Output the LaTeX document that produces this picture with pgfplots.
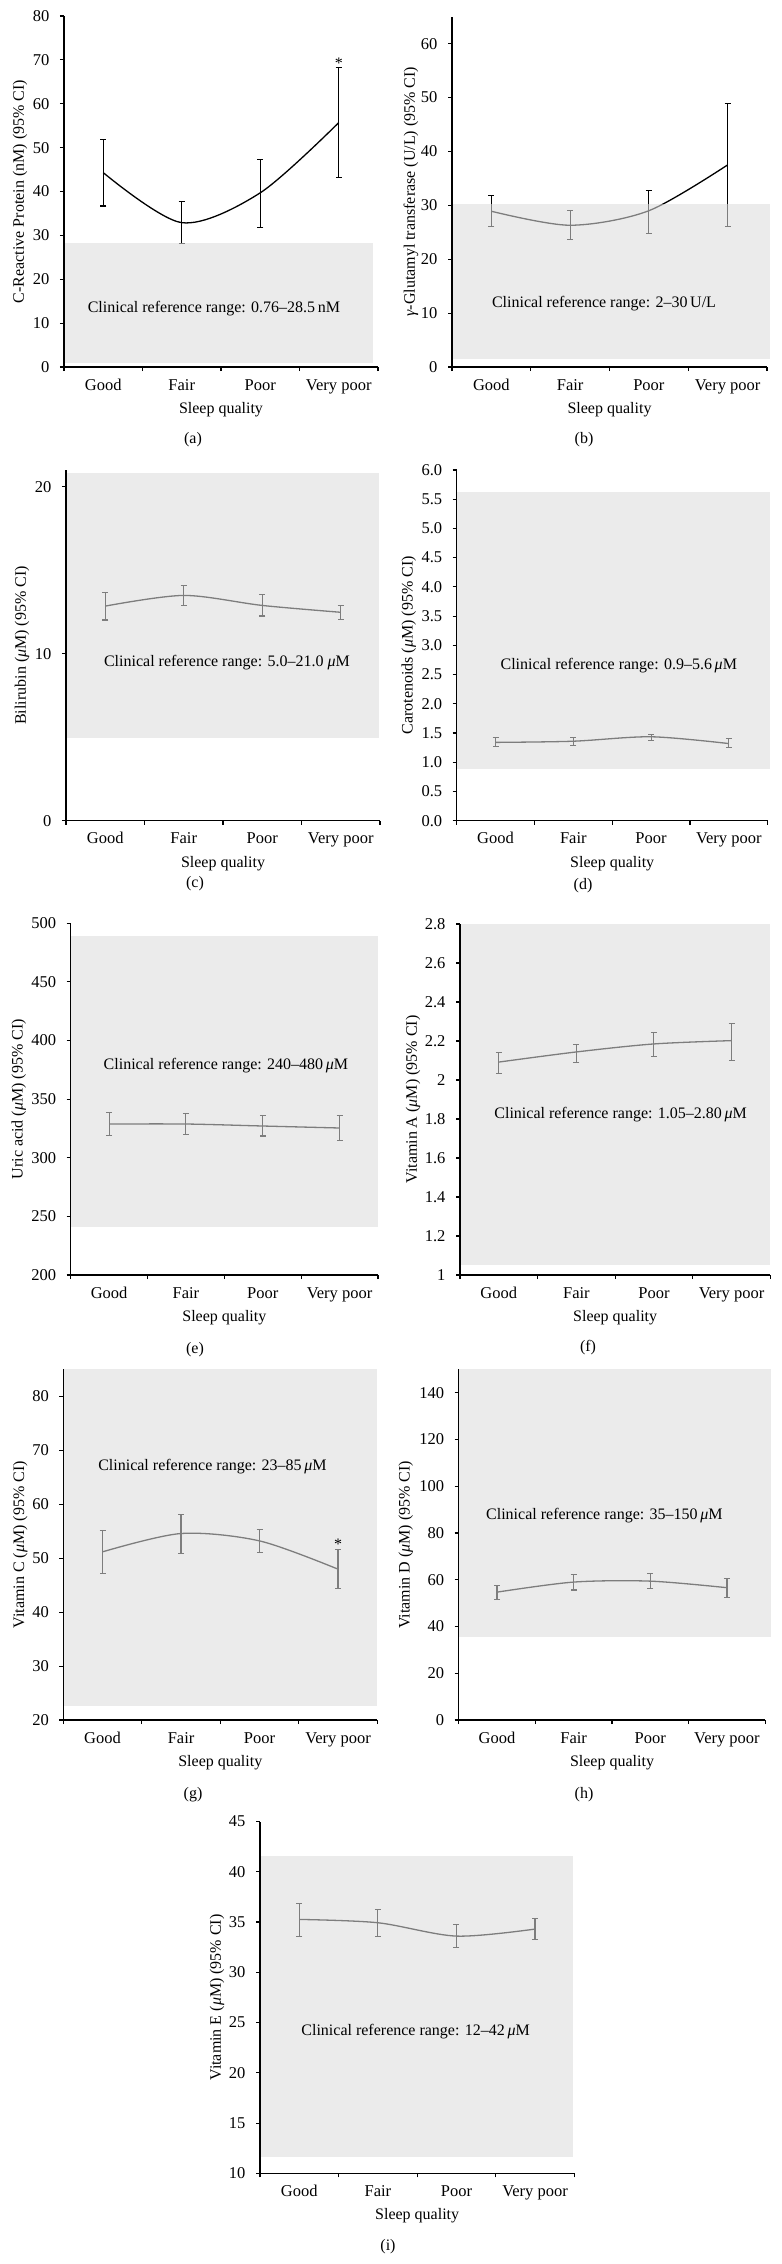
\documentclass[border=0pt]{standalone}
\usepackage{fontspec}
\setmainfont{Liberation Serif}
\usepackage{pgfplots}
\pgfplotsset{compat=1.18}
\definecolor{refgray}{gray}{0.862}
\newcommand{\mum}{\textit{μ}M}
\pgfplotsset{
  panel/.style={
    scale only axis,
    anchor=south west,
    xmin=0.5, xmax=4.5,
    xtick={1,2,3,4},
    xticklabels={Good,Fair,Poor,Very poor},
    major x tick style={draw=none},
    minor xtick={0.5,1.5,2.5,3.5,4.5},
    tick align=outside,
    major tick length=4bp, minor tick length=4bp,
    axis x line*=bottom, axis y line*=left,
    axis line style={line width=1.1bp, black},
    tick style={line width=1.1bp, black},
    xlabel={Sleep quality},
    clip=false,
    axis on top,
    scaled y ticks=false,
    /pgf/number format/assume math mode=true,
    xticklabel style={anchor=base, yshift=-19bp, font=\fontsize{16.5bp}{19bp}\selectfont},
    yticklabel style={xshift=-5bp, font=\fontsize{16.5bp}{19bp}\selectfont},
    xlabel style={at={(axis description cs:0.5,0)}, anchor=base, yshift=-46.5bp},
  },
  ylab/.style={ylabel style={at={([xshift=-#1]axis description cs:0,0.5)}, anchor=center}},
  dataline/.style={black, line width=1.3bp, smooth,
    error bars/.cd, y dir=both, y explicit,
    error bar style={line width=1.1bp, black},
    error mark options={rotate=90, mark size=3bp, line width=1.1bp, black}},
  refbox/.style={draw=none, fill=refgray, fill opacity=0.569},
}
\begin{document}
\fontsize{16bp}{19bp}\selectfont
\begin{tikzpicture}[font=\fontsize{16bp}{19bp}\selectfont]
\path[use as bounding box] (0,0) rectangle (782bp,-2264bp);

% (a)
\begin{axis}[panel, at={(64bp,-367bp)}, width=314bp, height=351bp,
  ymin=0, ymax=80, ytick={0,10,20,30,40,50,60,70,80}, ylab=44bp,
  ylabel={C-Reactive Protein (nM) (95\% CI)}]
\addplot[dataline] coordinates {
 (1,44.3) += (0,7.5) -= (0,7.6)
 (2,32.9) += (0,4.9) -= (0,4.7)
 (3,39.7) += (0,7.5) -= (0,8.0)
 (4,55.7) += (0,12.6) -= (0,12.6)};
\addplot[refbox] coordinates {(0.5,1.0) (4.44,1.0) (4.44,28.3) (0.5,28.3)} -- cycle;
\node at (axis cs:2.41,13.2) {Clinical reference range: 0.76–28.5\,nM};
\node at (axis cs:4,69.2) {*};
\end{axis}

% (b)
\begin{axis}[panel, at={(452bp,-367bp)}, width=315bp, height=350.3bp,
  ymin=0, ymax=65, ytick={0,10,20,30,40,50,60}, ylab=41bp,
  ylabel={\textit{γ}-Glutamyl transferase (U/L) (95\% CI)}]
\addplot[dataline] coordinates {
 (1,28.9) += (0,2.9) -= (0,2.9)
 (2,26.3) += (0,2.8) -= (0,2.7)
 (3,29.0) += (0,3.8) -= (0,4.2)
 (4,37.5) += (0,11.4) -= (0,11.5)};
\addplot[refbox] coordinates {(0.5,1.5) (4.54,1.5) (4.54,30.2) (0.5,30.2)} -- cycle;
\node at (axis cs:2.43,11.8) {Clinical reference range: 2–30\,U/L};
\end{axis}

% (c)
\begin{axis}[panel, at={(66bp,-820.7bp)}, width=314bp, height=350.7bp,
  ymin=0, ymax=21, ytick={0,10,20}, ylab=44bp,
  ylabel={Bilirubin (\mum) (95\% CI)}]
\addplot[dataline] coordinates {
 (1,12.85) += (0,0.84) -= (0,0.83)
 (2,13.49) += (0,0.60) -= (0,0.60)
 (3,12.89) += (0,0.66) -= (0,0.63)
 (4,12.48) += (0,0.41) -= (0,0.44)};
\addplot[refbox] coordinates {(0.5,4.93) (4.49,4.93) (4.49,20.8) (0.5,20.8)} -- cycle;
\node at (axis cs:2.55,9.46) {Clinical reference range: 5.0–21.0 \mum};
\end{axis}

% (d)
\begin{axis}[panel, at={(456.7bp,-820.7bp)}, width=311bp, height=350.7bp,
  ymin=0, ymax=6, ytick={0,0.5,1,1.5,2,2.5,3,3.5,4,4.5,5,5.5,6}, ylab=48bp,
  yticklabel style={/pgf/number format/.cd, fixed, fixed zerofill, precision=1},
  ylabel={Carotenoids (\mum) (95\% CI)}]
\addplot[dataline] coordinates {
 (1,1.34) += (0,0.08) -= (0,0.075)
 (2,1.36) += (0,0.07) -= (0,0.07)
 (3,1.436) += (0,0.04) -= (0,0.056)
 (4,1.32) += (0,0.08) -= (0,0.07)};
\addplot[refbox] coordinates {(0.5,0.89) (4.53,0.89) (4.53,5.63) (0.5,5.63)} -- cycle;
\node at (axis cs:2.585,2.66) {Clinical reference range: 0.9–5.6\,\mum};
\end{axis}

% (e)
\begin{axis}[panel, at={(70.7bp,-1275bp)}, width=307.3bp, height=351.7bp,
  ymin=200, ymax=500, ytick={200,250,300,350,400,450,500}, ylab=52bp,
  ylabel={Uric acid (\mum) (95\% CI)}]
\addplot[dataline] coordinates {
 (1,328.8) += (0,10.0) -= (0,9.7)
 (2,328.8) += (0,8.8) -= (0,8.8)
 (3,327.1) += (0,8.8) -= (0,8.5)
 (4,325.4) += (0,10.5) -= (0,10.8)};
\addplot[refbox] coordinates {(0.5,241) (4.5,241) (4.5,489) (0.5,489)} -- cycle;
\node at (axis cs:2.52,379) {Clinical reference range: 240–480\,\mum};
\end{axis}

% (f)
\begin{axis}[panel, at={(460bp,-1275bp)}, width=310.3bp, height=351bp,
  ymin=1, ymax=2.8, ytick={1,1.2,1.4,1.6,1.8,2,2.2,2.4,2.6,2.8}, ylab=47bp,
  ylabel={Vitamin A (\mum) (95\% CI)}]
\addplot[dataline] coordinates {
 (1,2.092) += (0,0.050) -= (0,0.058)
 (2,2.144) += (0,0.039) -= (0,0.052)
 (3,2.185) += (0,0.058) -= (0,0.064)
 (4,2.202) += (0,0.088) -= (0,0.102)};
\addplot[refbox] coordinates {(0.5,1.05) (4.5,1.05) (4.5,2.8) (0.5,2.8)} -- cycle;
\node at (axis cs:2.57,1.824) {Clinical reference range: 1.05–2.80\,\mum};
\end{axis}

% (g)
\begin{axis}[panel, at={(63.3bp,-1720bp)}, width=314bp, height=350.7bp,
  ymin=20, ymax=85, ytick={20,30,40,50,60,70,80}, ylab=43bp,
  ylabel={Vitamin C (\mum) (95\% CI)}]
\addplot[dataline] coordinates {
 (1,51.17) += (0,3.89) -= (0,3.97)
 (2,54.57) += (0,3.52) -= (0,3.77)
 (3,53.2) += (0,2.05) -= (0,2.1)
 (4,47.96) += (0,3.58) -= (0,3.66)};
\addplot[refbox] coordinates {(0.5,22.65) (4.5,22.65) (4.5,85) (0.5,85)} -- cycle;
\node at (axis cs:2.40,66.9) {Clinical reference range: 23–85\,\mum};
\node at (axis cs:4,52.6) {*};
\end{axis}

% (h)
\begin{axis}[panel, at={(458.7bp,-1720bp)}, width=306.6bp, height=350.7bp,
  ymin=0, ymax=150, ytick={0,20,40,60,80,100,120,140}, ylab=53bp,
  ylabel={Vitamin D (\mum) (95\% CI)}]
\addplot[dataline] coordinates {
 (1,54.7) += (0,2.7) -= (0,3.0)
 (2,59.0) += (0,3.4) -= (0,3.4)
 (3,59.4) += (0,3.2) -= (0,3.3)
 (4,56.6) += (0,4.0) -= (0,4.3)};
\addplot[refbox] coordinates {(0.5,35.7) (4.57,35.7) (4.57,150) (0.5,150)} -- cycle;
\node at (axis cs:2.40,87.6) {Clinical reference range: 35–150\,\mum};
\end{axis}

% (i)
\begin{axis}[panel, at={(260bp,-2173.3bp)}, width=314.3bp, height=351.8bp,
  ymin=10, ymax=45, ytick={10,15,20,25,30,35,40,45}, ylab=43bp,
  ylabel={Vitamin E (\mum) (95\% CI)}]
\addplot[dataline] coordinates {
 (1,35.26) += (0,1.59) -= (0,1.66)
 (2,34.93) += (0,1.29) -= (0,1.40)
 (3,33.6) += (0,1.13) -= (0,1.13)
 (4,34.3) += (0,1.09) -= (0,1.06)};
\addplot[refbox] coordinates {(0.5,11.66) (4.48,11.66) (4.48,41.6) (0.5,41.6)} -- cycle;
\node at (axis cs:2.48,24.09) {Clinical reference range: 12–42\,\mum};
\end{axis}

\node at (193bp,-440bp) {(a)};
\node at (584bp,-440bp) {(b)};
\node at (195bp,-884bp) {(c)};
\node at (583bp,-886bp) {(d)};
\node at (195bp,-1350bp) {(e)};
\node at (588bp,-1348bp) {(f)};
\node at (193bp,-1795bp) {(g)};
\node at (584bp,-1795bp) {(h)};
\node at (388bp,-2246.7bp) {(i)};
\end{tikzpicture}
\end{document}
